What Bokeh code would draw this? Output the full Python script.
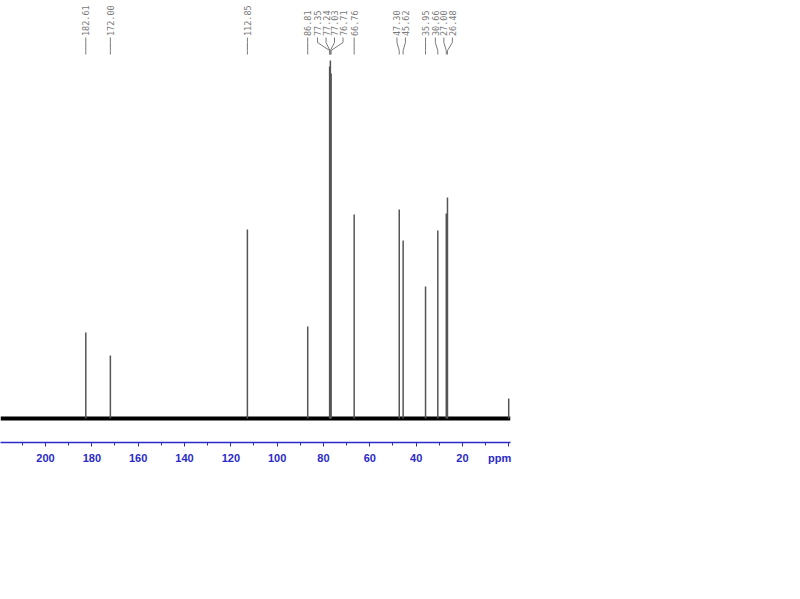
import math
from bokeh.plotting import figure
from bokeh.models import Range1d, FixedTicker
from bokeh.core.properties import value
from bokeh.embed import file_html
from bokeh.resources import INLINE

# --- data (13C NMR peaks, ppm and relative heights) ---
peak_ppm = [182.61, 172.00, 112.85, 86.81, 77.35, 77.24, 77.03, 76.71, 66.76,
            47.30, 45.62, 35.95, 30.66, 27.00, 26.48]
peak_height = [86, 63, 189, 92, 352, 300, 358, 345, 204,
               209, 178, 132, 188, 205, 221]
peak_labels = ["182.61", "172.00", "112.85", "86.81", "77.35", "77.24", "77.03", "76.71", "66.76",
               "47.30", "45.62", "35.95", "30.66", "27.00", "26.48"]
ref_ppm = [0.05]          # TMS reference peak (unlabelled)
ref_height = [20]
major_ticks = [0, 20, 40, 60, 80, 100, 120, 140, 160, 180, 200]
minor_ticks = [10, 30, 50, 70, 90, 110, 130, 150, 170, 190, 210]

# --- layout ---
FW, FH = 510, 442
X_START = 200 + 45 / 2.3166
X_END = X_START - FW / 2.3166
Y_BOT, Y_TOP = -24, 418
AXIS_BLUE = "#2a2ac8"

p = figure(frame_width=FW, frame_height=FH, output_backend="svg", toolbar_location=None,
           x_range=Range1d(X_START, X_END), y_range=Range1d(Y_BOT, Y_TOP),
           min_border=0, min_border_right=20, y_axis_location=None)
p.outline_line_color = None
p.grid.visible = False
p.background_fill_color = "white"
p.border_fill_color = "white"

ax = p.xaxis[0]
ax.ticker = FixedTicker(ticks=major_ticks, minor_ticks=minor_ticks)
ax.axis_line_color = AXIS_BLUE
ax.axis_line_width = 1.5
ax.major_tick_line_color = AXIS_BLUE
ax.minor_tick_line_color = AXIS_BLUE
ax.major_tick_in = 0
ax.major_tick_out = 4
ax.minor_tick_in = 0
ax.minor_tick_out = 3
ax.major_label_text_color = AXIS_BLUE
ax.major_label_text_font = "Liberation Sans"
ax.major_label_text_font_style = "bold"
ax.major_label_text_font_size = "11px"
ax.major_label_standoff = 5
ax.major_label_overrides = {0: "ppm" + "\u00a0" * 6}

# baseline noise band
p.line(x=[X_START, X_END], y=[0, 0], line_color="black", line_width=4)

# peaks
p.segment(x0=peak_ppm, y0=[0] * len(peak_ppm), x1=peak_ppm, y1=peak_height,
          line_color="#555555", line_width=1.5)
p.segment(x0=ref_ppm, y0=[0], x1=ref_ppm, y1=ref_height, line_color="#555555", line_width=1.5)

# label placement: spread overlapping labels horizontally
scale = FW / (X_START - X_END)
px = [(X_START - v) * scale for v in peak_ppm]
SP = 8.5
groups = [[i] for i in range(len(px))]

def positions(g):
    c = sum(px[i] for i in g) / len(g)
    n = len(g)
    return [c + (k - (n - 1) / 2) * SP for k in range(n)]

changed = True
while changed:
    changed = False
    for gi in range(len(groups) - 1):
        a = positions(groups[gi])
        b = positions(groups[gi + 1])
        if a[-1] + SP > b[0] + 0.01:
            groups[gi] = groups[gi] + groups[gi + 1]
            del groups[gi + 1]
            changed = True
            break

label_px = []
for g in groups:
    label_px.extend(positions(g))
label_ppm = [X_START - v / scale for v in label_px]

def ydat(page_y):
    return Y_TOP - page_y

xs, ys = [], []
for lp, pp in zip(label_ppm, peak_ppm):
    xs.append([lp, lp, pp, pp])
    ys.append([ydat(37), ydat(42), ydat(50), ydat(54)])
p.multi_line(xs=xs, ys=ys, line_color="#7a7a7a", line_width=1)

p.text(x=label_ppm, y=[ydat(35.5)] * len(label_ppm), text=peak_labels, angle=math.pi / 2,
       text_align="left", text_baseline="middle", text_font=value("DejaVu Sans Mono"),
       text_font_size="8.5px", text_color="#7a7a7a")

open("out.html", "w").write(file_html(p, INLINE))
